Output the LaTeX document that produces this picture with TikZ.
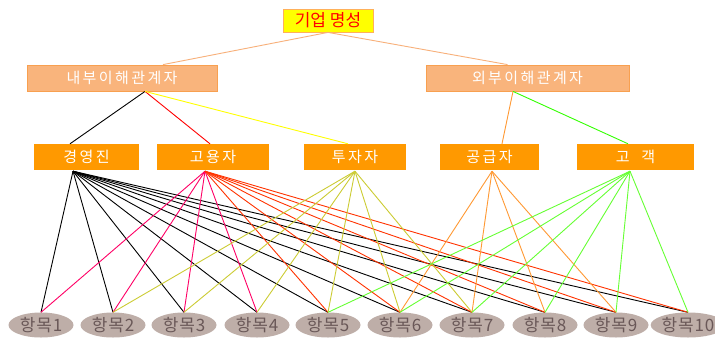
\documentclass[tikz,border=0pt]{standalone}
\usepackage{fontspec}
\usetikzlibrary{shapes.geometric,calc}
\newfontfamily\kr{Noto Sans CJK KR}
\newfontfamily\krs[LetterSpace=16]{Noto Sans CJK KR}
\newfontfamily\kri[LetterSpace=5]{Noto Sans CJK KR}
\definecolor{topfill}{HTML}{FFFF00}
\definecolor{topdraw}{HTML}{FFB05A}
\definecolor{toptext}{HTML}{FF0000}
\definecolor{lonefill}{HTML}{F9B47C}
\definecolor{lonedraw}{HTML}{F8A050}
\definecolor{ltwofill}{HTML}{FF9900}
\definecolor{itemfill}{HTML}{BEAEA8}
\definecolor{itemtext}{HTML}{6A5858}
\definecolor{cpink}{HTML}{FF0066}
\definecolor{cred}{HTML}{FF3300}
\definecolor{colive}{HTML}{CCCC33}
\definecolor{corange}{HTML}{FF9933}
\definecolor{cgreen}{HTML}{66FF33}
\definecolor{ctopline}{HTML}{F8B07A}
\definecolor{cyel}{HTML}{FFFF00}
\definecolor{cgreenb}{HTML}{33FF00}
\tikzset{
  topbox/.style={draw=topdraw, fill=topfill, line width=0.8pt, minimum width=90pt, minimum height=23pt, inner sep=0pt, font=\kr\fontsize{17}{19}\selectfont, text=toptext},
  lonebox/.style={draw=lonedraw, fill=lonefill, line width=0.8pt, minimum height=26pt, inner sep=0pt, font=\krs\fontsize{15}{17}\selectfont, text=white},
  ltwobox/.style={fill=ltwofill, minimum height=26pt, inner sep=0pt, font=\krs\fontsize{15}{17}\selectfont, text=white},
  itembox/.style={ellipse, fill=itemfill, minimum width=65pt, minimum height=25pt, inner sep=0pt, font=\kri\fontsize{17}{19}\selectfont, text=itemtext},
  fan/.style={line width=0.9pt}
}
\begin{document}
\begin{tikzpicture}[x=1pt,y=-1pt]
\useasboundingbox (0,0) rectangle (715,338);
\fill[white] (0,0) rectangle (715,338);

% nodes
\node[topbox] (root) at (328,20.5) {기업 명성};
\node[lonebox, minimum width=190pt] (in) at (122,78) {내부이해관계자};
\node[lonebox, minimum width=203pt] (ex) at (527.5,78) {외부이해관계자};
\node[ltwobox, minimum width=105pt] (gy) at (86.5,157) {경영진};
\node[ltwobox, minimum width=112pt] (go) at (213,157) {고용자};
\node[ltwobox, minimum width=102pt] (tu) at (355,157) {투자자};
\node[ltwobox, minimum width=99pt] (gg) at (489.5,157) {공급자};
\node[ltwobox, minimum width=117pt] (gk) at (635.5,157) {고\ \ 객};

\foreach \i/\x in {1/41,2/113,3/184,4/257,5/328,6/400,7/472,8/545,9/616,10/688}{
  \node[itembox] (it\i) at (\x,325) {항목\i};
}

% top connectors
\draw[ctopline, line width=0.9pt] (root.south) -- ($(in.north)+(41,0)$);
\draw[ctopline, line width=0.9pt] (root.south) -- ($(ex.north)+(-20,0)$);

\coordinate (inS) at ($(in.south)+(23,0)$);
\coordinate (exS) at ($(ex.south)+(-14.5,0)$);
\draw[black, line width=0.9pt] (inS) -- ($(gy.north)+(-16.5,0)$);
\draw[red, line width=0.9pt] (inS) -- ($(go.north)+(-3,0)$);
\draw[cyel, line width=0.9pt] (inS) -- ($(tu.north)+(-7,0)$);
\draw[corange, line width=0.9pt] (exS) -- ($(gg.north)+(12.5,0)$);
\draw[cgreenb, line width=0.9pt] (exS) -- ($(gk.north)+(-7.5,0)$);

% fan sources
\coordinate (sgy) at ($(gy.south)+(-13.5,1)$);
\coordinate (sgo) at ($(go.south)+(-8,1)$);
\coordinate (stu) at ($(tu.south)+(0,1)$);
\coordinate (sgg) at ($(gg.south)+(2.5,1)$);
\coordinate (sgk) at ($(gk.south)+(-5.5,1)$);

\foreach \i in {1,...,10}{ \draw[fan, black] (sgy) -- (it\i.north); }
\foreach \i in {1,...,4}{ \draw[fan, cpink] (sgo) -- (it\i.north); }
\foreach \i in {5,...,10}{ \draw[fan, cred] (sgo) -- (it\i.north); }
\foreach \i in {2,...,7}{ \draw[fan, colive] (stu) -- (it\i.north); }
\foreach \i in {6,...,9}{ \draw[fan, corange] (sgg) -- (it\i.north); }
\foreach \i in {5,...,10}{ \draw[fan, cgreen] (sgk) -- (it\i.north); }
\end{tikzpicture}
\end{document}
